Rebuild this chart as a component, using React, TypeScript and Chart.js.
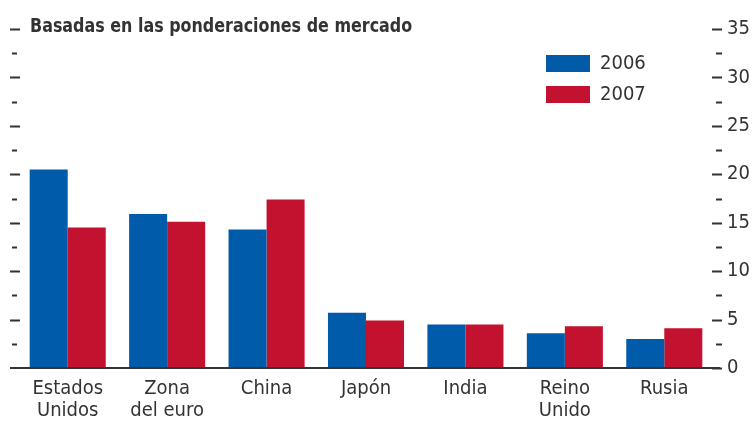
import React, { useEffect, useRef } from "react";
import { Chart, registerables } from "chart.js";

Chart.register(...registerables);

const categories: string[][] = [
  ["Estados", "Unidos"],
  ["Zona", "del euro"],
  ["China"],
  ["Japón"],
  ["India"],
  ["Reino", "Unido"],
  ["Rusia"],
];
const seriesNames = ["2006", "2007"];
const values2006 = [20.5, 15.9, 14.3, 5.7, 4.5, 3.6, 3.0];
const values2007 = [14.5, 15.1, 17.4, 4.9, 4.5, 4.3, 4.1];
const yTicks = [0, 5, 10, 15, 20, 25, 30, 35];
const minorTicks = [2.5, 7.5, 12.5, 17.5, 22.5, 27.5, 32.5];
const titleText = "Basadas en las ponderaciones de mercado";

const BLUE = "#005BAA";
const RED = "#C2122F";
const INK = "#333333";
const FONT = "'Liberation Sans Narrow', 'Arial Narrow', 'DejaVu Sans Condensed', sans-serif";

const decorPlugin = {
  id: "decor",
  afterDraw(chart: any) {
    const ctx = chart.ctx;
    const area = chart.chartArea;
    const y = chart.scales.y;
    ctx.save();
    ctx.strokeStyle = INK;
    ctx.lineWidth = 2;
    yTicks.forEach((v) => {
      const py = Math.round(y.getPixelForValue(v)) + 0.5;
      ctx.beginPath();
      if (v !== 0) {
        ctx.moveTo(area.left - 8, py);
        ctx.lineTo(area.left + 2, py);
      }
      ctx.moveTo(area.right - 2, py);
      ctx.lineTo(area.right + 8, py);
      ctx.stroke();
    });
    minorTicks.forEach((v) => {
      const py = Math.round(y.getPixelForValue(v)) + 0.5;
      ctx.beginPath();
      ctx.moveTo(area.left - 6, py);
      ctx.lineTo(area.left - 1, py);
      ctx.moveTo(area.right + 2, py);
      ctx.lineTo(area.right + 8, py);
      ctx.stroke();
    });
    const by = Math.round(y.getPixelForValue(0));
    ctx.beginPath();
    ctx.moveTo(area.left - 8, by);
    ctx.lineTo(area.right + 6, by);
    ctx.stroke();
    // title (condensed)
    const ty = y.getPixelForValue(35) + 3;
    ctx.save();
    ctx.translate(area.left + 12, ty);
    ctx.scale(0.885, 1);
    ctx.fillStyle = INK;
    ctx.font = `bold 20px ${FONT}`;
    ctx.textBaseline = "alphabetic";
    ctx.textAlign = "left";
    ctx.fillText(titleText, 0, 0);
    ctx.restore();
    // legend
    const datasets = chart.data.datasets;
    ctx.font = `20px ${FONT}`;
    datasets.forEach((ds: any, i: number) => {
      const top = y.getPixelForValue(35) + 26 + i * 31;
      ctx.fillStyle = ds.backgroundColor;
      ctx.fillRect(546, top, 44, 17);
      ctx.fillStyle = INK;
      ctx.textBaseline = "middle";
      ctx.fillText(ds.label, 600, top + 9);
    });
    ctx.restore();
  },
};

export default function App() {
  const ref = useRef<HTMLCanvasElement | null>(null);
  useEffect(() => {
    if (!ref.current) return;
    const chart = new Chart(ref.current, {
      type: "bar",
      data: {
        labels: categories,
        datasets: [
          { label: seriesNames[0], data: values2006, backgroundColor: BLUE },
          { label: seriesNames[1], data: values2007, backgroundColor: RED },
        ],
      },
      options: {
        animation: false,
        responsive: false,
        maintainAspectRatio: false,
        layout: { padding: { left: 18, right: 0, top: 29, bottom: 0 } },
        datasets: { bar: { categoryPercentage: 0.765, barPercentage: 1.0 } },
        plugins: { legend: { display: false }, tooltip: { enabled: false } },
        scales: {
          x: {
            grid: { display: false, drawTicks: false },
            border: { display: false },
            afterFit: (s: any) => {
              s.height = 55;
            },
            ticks: {
              color: INK,
              font: { family: FONT, size: 20, lineHeight: 1.1 },
              padding: 10,
              maxRotation: 0,
              autoSkip: false,
            },
          },
          y: {
            position: "right",
            min: 0,
            max: 35,
            grid: { display: false, drawTicks: false },
            border: { display: false },
            afterFit: (s: any) => {
              s.width = 41;
            },
            ticks: {
              stepSize: 5,
              color: INK,
              font: { family: FONT, size: 20 },
              padding: 13,
            },
          },
        },
      },
      plugins: [decorPlugin],
    });
    return () => chart.destroy();
  }, []);
  return (
    <div style={{ position: "fixed", left: 0, top: 0, width: 755, height: 423, background: "#fff" }}>
      <canvas ref={ref} width={755} height={423} />
    </div>
  );
}
